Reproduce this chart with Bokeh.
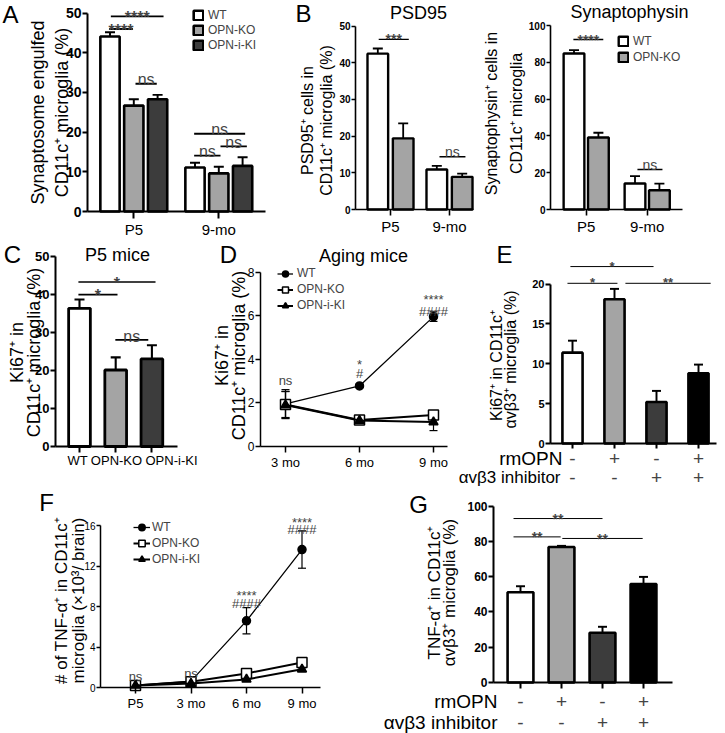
import math
from bokeh.plotting import figure
from bokeh.models import (Range1d, FixedTicker, Label, Legend, LegendItem, Whisker,
                          ColumnDataSource, TeeHead)
from bokeh.layouts import row, column
from bokeh.embed import file_html
from bokeh.resources import INLINE

FONT = "Liberation Sans"
C_WT, C_KO, C_KI, C_BLK = "#ffffff", "#a4a4a4", "#3c3c3c", "#000000"

# ======================= data =======================
# A
A_groups = ["P5", "9-mo"]
A_names = ["WT", "OPN-KO", "OPN-i-KI"]
A_wt = [44.1, 11.1]
A_wt_err = [1.1, 1.2]
A_ko = [26.7, 9.6]
A_ko_err = [1.6, 1.7]
A_iki = [28.3, 11.5]
A_iki_err = [1.1, 2.2]
A_sig_x0 = [-0.27, -0.29, 0.02, 0.71, 0.71, 1.02]
A_sig_x1 = [0.35, -0.01, 0.27, 1.31, 1.02, 1.33]
A_sig_y = [49.2, 46.0, 32.2, 19.6, 14.1, 16.4]
A_sig_txt = ["****", "****", "ns", "ns", "ns", "ns"]

# B
B_groups = ["P5", "9-mo"]
B_names = ["WT", "OPN-KO"]
B1_wt = [42.5, 10.9]
B1_wt_err = [1.4, 1.0]
B1_ko = [19.4, 8.9]
B1_ko_err = [4.1, 0.9]
B1_sig_x0 = [-0.20, 0.83]
B1_sig_x1 = [0.31, 1.27]
B1_sig_y = [46.4, 14.4]
B1_sig_txt = ["***", "ns"]
B2_wt = [84.8, 14.1]
B2_wt_err = [1.8, 4.0]
B2_ko = [39.1, 10.5]
B2_ko_err = [2.6, 3.6]
B2_sig_x0 = [-0.21, 0.84]
B2_sig_x1 = [0.28, 1.25]
B2_sig_y = [92.4, 21.7]
B2_sig_txt = ["****", "ns"]

# C
C_groups = ["WT", "OPN-KO", "OPN-i-KI"]
C_vals = [36.3, 20.1, 23.0]
C_err = [2.3, 3.3, 3.6]
C_sig_x0 = [-0.03, -0.03, 0.99]
C_sig_x1 = [2.10, 1.05, 1.90]
C_sig_y = [43.2, 39.9, 28.0]
C_sig_txt = ["*", "*", "ns"]

# D
D_ages = ["3 mo", "6 mo", "9 mo"]
D_names = ["WT", "OPN-KO", "OPN-i-KI"]
D_wt = [1.96, 2.78, 5.96]
D_wt_err = [0.65, 0.08, 0.22]
D_ko = [1.93, 1.22, 1.45]
D_ko_err = [0.60, 0.08, 0.13]
D_iki = [1.90, 1.19, 1.12]
D_iki_err = [0.62, 0.08, 0.39]
D_ann_x = [0, 1, 1, 2, 2]
D_ann_y = [3.18, 4.10, 3.58, 7.08, 6.42]
D_ann_txt = ["ns", "*", "#", "****", "####"]

# E
E_rmopn = ["-", "+", "-", "+"]
E_inhib = ["-", "-", "+", "+"]
E_vals = [11.4, 18.1, 5.2, 8.8]
E_err = [1.5, 1.3, 1.4, 1.1]
E_sig_x0 = [-0.05, -0.12, 1.26]
E_sig_x1 = [1.93, 1.07, 3.29]
E_sig_y = [22.2, 20.1, 20.1]
E_sig_txt = ["*", "*", "**"]

# F
F_ages = ["P5", "3 mo", "6 mo", "9 mo"]
F_names = ["WT", "OPN-KO", "OPN-i-KI"]
F_wt = [0.23, 0.63, 6.6, 13.66]
F_wt_err = [0.10, 0.15, 1.3, 1.85]
F_ko = [0.20, 0.56, 1.39, 2.48]
F_ko_err = [0.05, 0.10, 0.15, 0.20]
F_iki = [0.20, 0.40, 0.80, 1.80]
F_iki_err = [0.05, 0.10, 0.10, 0.15]
F_ann_x = [0, 1, 2, 2, 3, 3]
F_ann_y = [1.45, 1.71, 9.8, 8.81, 17.06, 16.07]
F_ann_txt = ["ns", "ns", "****", "####", "****", "####"]

# G
G_rmopn = ["-", "+", "-", "+"]
G_inhib = ["-", "-", "+", "+"]
G_vals = [51.2, 76.9, 28.2, 55.8]
G_err = [3.4, 0.6, 3.4, 4.1]
G_sig_x0 = [-0.17, -0.17, 1.02]
G_sig_x1 = [2.00, 0.98, 2.98]
G_sig_y = [93.0, 82.6, 81.7]
G_sig_txt = ["**", "**", "**"]


# ======================= helpers =======================
class Panel:
    """Figure whose frame is its whole canvas; axes are pinned with fixed_location."""

    def __init__(self, canvas, xo, xppu, yo, yppu):
        cx0, cy0, cx1, cy1 = canvas
        self.cx0, self.cy0, self.cx1, self.cy1 = canvas
        self.xo, self.xppu, self.yo, self.yppu = xo, xppu, yo, yppu
        p = figure(width=cx1 - cx0, height=cy1 - cy0,
                   x_range=Range1d(self.X(cx0), self.X(cx1)),
                   y_range=Range1d(self.Y(cy1), self.Y(cy0)),
                   min_border_left=0, min_border_right=0,
                   min_border_top=0, min_border_bottom=0,
                   output_backend="svg", toolbar_location=None)
        p.xgrid.visible = False
        p.ygrid.visible = False
        p.outline_line_color = None
        p.background_fill_color = "white"
        p.border_fill_color = "white"
        self.p = p

    def X(self, px):
        return (px - self.xo) / self.xppu

    def Y(self, py):
        return (self.yo - py) / self.yppu

    def label(self, px, py, text, size, bold=False, angle=0.0, align="center",
              baseline="middle"):
        self.p.add_layout(Label(x=self.X(px), y=self.Y(py), text=text, angle=angle,
                                text_align=align, text_baseline=baseline,
                                text_font=FONT, text_font_size=f"{size}px",
                                text_font_style="bold" if bold else "normal",
                                text_color="black"))

    def axes(self, yaxis_px, xb, yb, xticks, xlabels, yticks, ytf, ybold, xtf, lw=2.0,
             ytick=6, xtick=6, ystand=2):
        xa, ya = self.p.xaxis[0], self.p.yaxis[0]
        xa.fixed_location = 0
        ya.fixed_location = self.X(yaxis_px)
        xa.bounds = xb
        ya.bounds = yb
        xa.ticker = FixedTicker(ticks=xticks)
        ya.ticker = FixedTicker(ticks=yticks)
        xa.major_label_overrides = {t: l for t, l in zip(xticks, xlabels)}
        for a in (xa, ya):
            a.axis_line_width = lw
            a.axis_line_color = "black"
            a.major_tick_line_width = lw
            a.major_tick_line_color = "black"
            a.major_tick_in = 0
            a.minor_tick_line_color = None
            a.major_label_text_font = FONT
            a.major_label_text_color = "black"
            a.major_label_standoff = 2
        ya.major_label_standoff = ystand
        ya.major_tick_out = ytick
        xa.major_tick_out = xtick
        if xtick == 0:
            xa.major_tick_line_color = None
        ya.major_label_text_font_size = f"{ytf}px"
        ya.major_label_text_font_style = "bold" if ybold else "normal"
        xa.major_label_text_font_size = f"{xtf}px"


def bars(P, xs, tops, errs, color, width, lw, cap):
    src = ColumnDataSource(dict(x=xs, top=tops, up=[t + e for t, e in zip(tops, errs)]))
    P.p.add_layout(Whisker(source=src, base="x", lower="top", upper="up",
                           line_width=lw * 0.75, line_color="black",
                           upper_head=TeeHead(size=cap, line_width=lw * 0.75),
                           lower_head=None))
    return P.p.vbar(x="x", top="top", bottom=0, width=width, source=src,
                    fill_color=color, line_color="black", line_width=lw)


def shift(t):
    if set(t) == {"*"}:
        return 0.575
    if set(t) == {"#"}:
        return 0.36
    return 0.26


def sig(P, x0s, x1s, ys, txts, fs, lw, bold=False, gap=8):
    src = ColumnDataSource(dict(x0=x0s, x1=x1s, y=ys))
    P.p.segment(x0="x0", y0="y", x1="x1", y1="y", source=src,
                line_color="black", line_width=lw)
    for a, b, y, t in zip(x0s, x1s, ys, txts):
        P.p.add_layout(Label(x=(a + b) / 2, y=y, text=t, text_align="center",
                             text_baseline="alphabetic", y_offset=gap - shift(t) * fs,
                             text_font=FONT, text_font_size=f"{fs}px",
                             text_font_style="bold" if (bold and "*" in t) else "normal"))


def ann(P, xs, ys, txts, fs):
    for x, y, t in zip(xs, ys, txts):
        P.p.add_layout(Label(x=x, y=y, text=t, text_align="center",
                             text_baseline="alphabetic", y_offset=-shift(t) * fs,
                             text_font=FONT, text_font_size=f"{fs}px"))


def series(P, ys, errs, marker, size, fill, lw, cap=8):
    src = ColumnDataSource(dict(x=list(range(len(ys))), y=ys,
                                lo=[v - e for v, e in zip(ys, errs)],
                                hi=[v + e for v, e in zip(ys, errs)]))
    ln = P.p.line("x", "y", source=src, line_color="black", line_width=lw)
    P.p.add_layout(Whisker(source=src, base="x", lower="lo", upper="hi",
                           line_width=1.2, line_color="black",
                           upper_head=TeeHead(size=cap, line_width=1.2),
                           lower_head=TeeHead(size=cap, line_width=1.2)))
    sc = P.p.scatter("x", "y", source=src, marker=marker, size=size, fill_color=fill,
                     line_color="black", line_width=1.5)
    return ln, sc


def legend(P, items, left_px, top_px, gw, gh, ih, fs, standoff):
    n = len(items)
    h = n * ih
    loc = (left_px - P.cx0, (P.cy1 - top_px) - h)
    lg = Legend(items=[LegendItem(label=l, renderers=r) for l, r in items],
                location=loc, orientation="vertical",
                glyph_width=gw, glyph_height=gh, label_height=ih, spacing=0,
                padding=0, margin=0, label_standoff=standoff,
                label_text_font=FONT, label_text_font_size=f"{fs}px",
                border_line_color=None, background_fill_alpha=0)
    P.p.add_layout(lg)


def rows_of_signs(P, xs, top_row, bottom_row, y_top_px, y_bot_px, fs):
    for x, a, b in zip(xs, top_row, bottom_row):
        P.p.add_layout(Label(x=x, y=P.Y(y_top_px), text=a, text_align="center",
                             text_baseline="middle", text_font=FONT,
                             text_font_size=f"{fs}px"))
        P.p.add_layout(Label(x=x, y=P.Y(y_bot_px), text=b, text_align="center",
                             text_baseline="middle", text_font=FONT,
                             text_font_size=f"{fs}px"))


ROT = math.pi / 2

# ======================= Panel A =======================
A = Panel((0, 0, 285, 240), xo=133.3, xppu=85, yo=211, yppu=3.967)
A.axes(87, (-0.545, 1.55), (0, 50), [0, 1], A_groups, [0, 10, 20, 30, 40, 50], 14, True, 15,
       lw=2.0, ytick=5, xtick=7, ystand=1)
gi = list(range(len(A_groups)))
rA = []
for off, vals, errs, col in [(-0.28, A_wt, A_wt_err, C_WT), (0.0, A_ko, A_ko_err, C_KO),
                             (0.28, A_iki, A_iki_err, C_KI)]:
    rA.append(bars(A, [g + off for g in gi], vals, errs, col, 0.227, 2.6, 10))
sig(A, A_sig_x0, A_sig_x1, A_sig_y, A_sig_txt, 16, 1.8, bold=True)
legend(A, [(n, [r]) for n, r in zip(A_names, rA)], 192, 7, 12, 12, 15, 12, 4)
A.label(10, 14, "A", 24)
A.label(37, 112, "Synaptosome engulfed", 18, angle=ROT)
A.label(61, 112, "CD11c⁺ microglia (%)", 18, angle=ROT)

# ======================= Panel B (PSD95) =======================
B1 = Panel((285, 0, 478, 240), xo=390, xppu=59, yo=209, yppu=3.667)
B1.axes(355, (-0.593, 1.41), (0, 50), [0, 1], B_groups, [0, 10, 20, 30, 40, 50], 10, True, 15,
        lw=1.6, ytick=4, xtick=6, ystand=1)
gi = list(range(len(B_groups)))
bars(B1, [g - 0.215 for g in gi], B1_wt, B1_wt_err, C_WT, 0.35, 2.4, 10)
bars(B1, [g + 0.215 for g in gi], B1_ko, B1_ko_err, C_KO, 0.35, 2.4, 10)
sig(B1, B1_sig_x0, B1_sig_x1, B1_sig_y, B1_sig_txt, 14, 1.4, bold=True)
B1.label(303, 13, "B", 24)
B1.label(418, 12, "PSD95", 18)
B1.label(307, 120, "PSD95⁺ cells in", 16, angle=ROT)
B1.label(326, 120, "CD11c⁺ microglia (%)", 16, angle=ROT)

# ======================= Panel B (Synaptophysin) =======================
B2 = Panel((478, 0, 725, 240), xo=585.7, xppu=61, yo=209, yppu=1.84)
B2.axes(550, (-0.585, 1.58), (0, 100), [0, 1], B_groups, [0, 20, 40, 60, 80, 100], 10, True,
        15, lw=1.6, ytick=4, xtick=6, ystand=1)
rB = [bars(B2, [g - 0.2 for g in gi], B2_wt, B2_wt_err, C_WT, 0.34, 2.4, 10),
      bars(B2, [g + 0.2 for g in gi], B2_ko, B2_ko_err, C_KO, 0.34, 2.4, 10)]
sig(B2, B2_sig_x0, B2_sig_x1, B2_sig_y, B2_sig_txt, 14, 1.4, bold=True)
legend(B2, [(n, [r]) for n, r in zip(B_names, rB)], 617, 33, 12, 12, 16, 12, 4)
B2.label(629, 11, "Synaptophysin", 18)
B2.label(491, 113, "Synaptophysin⁺ cells in", 16, angle=ROT)
B2.label(516, 113, "CD11c⁺ microglia", 16, angle=ROT)

# ======================= Panel C =======================
C = Panel((0, 240, 212, 490), xo=79, xppu=36.2, yo=446, yppu=3.807)
C.axes(55, (-0.663, 2.71), (0, 50), [0, 1, 2], ["", "", ""], [0, 10, 20, 30, 40, 50], 13,
       True, 13, lw=2.0, ytick=5, xtick=6, ystand=1)
for i, col in enumerate([C_WT, C_KO, C_KI]):
    bars(C, [i], [C_vals[i]], [C_err[i]], col, 0.6, 2.8, 10)
sig(C, C_sig_x0, C_sig_x1, C_sig_y, C_sig_txt, 16, 1.6, bold=True)
for name, cx in zip(C_groups, [77, 116, 171]):
    C.label(cx, 460, name, 13)
C.label(12, 254, "C", 24)
C.label(117, 254, "P5 mice", 18)
C.label(16, 352, "Ki67⁺ in", 18, angle=ROT)
C.label(33, 352, "CD11c⁺ microglia (%)", 18, angle=ROT)

# ======================= Panel D =======================
D = Panel((212, 240, 452, 490), xo=285, xppu=74, yo=446, yppu=21.79)
D.axes(260, (-0.338, 2.19), (0, 8), [0, 1, 2], D_ages, [0, 2, 4, 6, 8], 12, False, 13,
       lw=1.5, ytick=5, xtick=6, ystand=1)
dwt = series(D, D_wt, D_wt_err, "circle", 8, "black", 1.3)
dko = series(D, D_ko, D_ko_err, "square", 10, "white", 2.0)
dki = series(D, D_iki, D_iki_err, "triangle", 9, "black", 2.0)
ann(D, D_ann_x, D_ann_y, D_ann_txt, 13)
legend(D, [(n, list(r)) for n, r in zip(D_names, [dwt, dko, dki])],
       277, 265, 16, 15, 16, 12, 4)
D.label(228, 254, "D", 24)
D.label(363, 255, "Aging mice", 18)
D.label(221, 355, "Ki67⁺ in", 18, angle=ROT)
D.label(238, 355, "CD11c⁺ microglia (%)", 18, angle=ROT)

# ======================= Panel E =======================
E = Panel((452, 240, 725, 490), xo=572, xppu=42, yo=443, yppu=7.97)
E.axes(550, (-0.524, 3.43), (0, 20), [0, 1, 2, 3], ["", "", "", ""], [0, 5, 10, 15, 20], 11,
       True, 12, lw=2.0, ytick=5, xtick=5, ystand=1)
for i, col in enumerate([C_WT, C_KO, C_KI, C_BLK]):
    bars(E, [i], [E_vals[i]], [E_err[i]], col, 0.48, 2.6, 9)
sig(E, E_sig_x0, E_sig_x1, E_sig_y, E_sig_txt, 13, 1.0, bold=True)
rows_of_signs(E, [0, 1, 2, 3], E_rmopn, E_inhib, 458, 477, 19)
E.label(562, 458, "rmOPN", 19, align="right")
E.label(560, 477, "αvβ3 inhibitor", 17, align="right")
E.label(504, 254, "E", 24)
E.label(496, 365, "Ki67⁺ in CD11c⁺", 16, angle=ROT)
E.label(510, 359, "αvβ3⁺ microglia (%)", 16, angle=ROT)

# ======================= Panel F =======================
F = Panel((0, 490, 375, 733), xo=135, xppu=55.5, yo=687, yppu=10.1)
F.axes(100, (-0.63, 3.33), (0, 16), [0, 1, 2, 3], F_ages, [0, 4, 8, 12, 16], 10, False, 13,
       lw=1.5, ytick=4, xtick=6, ystand=1)
fwt = series(F, F_wt, F_wt_err, "circle", 8, "black", 1.3)
fko = series(F, F_ko, F_ko_err, "square", 10, "white", 2.0)
fki = series(F, F_iki, F_iki_err, "triangle", 9, "black", 2.0)
ann(F, F_ann_x, F_ann_y, F_ann_txt, 13)
legend(F, [(n, list(r)) for n, r in zip(F_names, [fwt, fko, fki])],
       133, 519, 17, 16, 16, 12, 2)
F.label(46, 502, "F", 24)
F.label(61, 600, "# of TNF-α⁺ in CD11c⁺", 17, angle=ROT)
F.label(78, 600, "microglia (×10³/ brain)", 17, angle=ROT)

# ======================= Panel G =======================
G = Panel((375, 490, 725, 733), xo=520, xppu=41, yo=682, yppu=1.763)
G.axes(493, (-0.65, 3.7), (0, 100), [0, 1, 2, 3], ["", "", "", ""], [0, 20, 40, 60, 80, 100],
       12, True, 12, lw=2.0, ytick=5, xtick=6, ystand=1)
for i, col in enumerate([C_WT, C_KO, C_KI, C_BLK]):
    bars(G, [i], [G_vals[i]], [G_err[i]], col, 0.63, 2.6, 9)
sig(G, G_sig_x0, G_sig_x1, G_sig_y, G_sig_txt, 14, 1.0, bold=True)
rows_of_signs(G, [0, 1, 2, 3], G_rmopn, G_inhib, 701, 722, 19)
G.label(497, 701, "rmOPN", 19, align="right")
G.label(497, 722, "αvβ3 inhibitor", 19, align="right")
G.label(418, 504, "G", 24)
G.label(434, 592, "TNF-α⁺ in CD11c⁺", 17, angle=ROT)
G.label(449, 592, "αvβ3⁺ microglia (%)", 17, angle=ROT)

layout = column(row(A.p, B1.p, B2.p, spacing=0),
                row(C.p, D.p, E.p, spacing=0),
                row(F.p, G.p, spacing=0), spacing=0)
open("out.html", "w").write(file_html(layout, INLINE))
